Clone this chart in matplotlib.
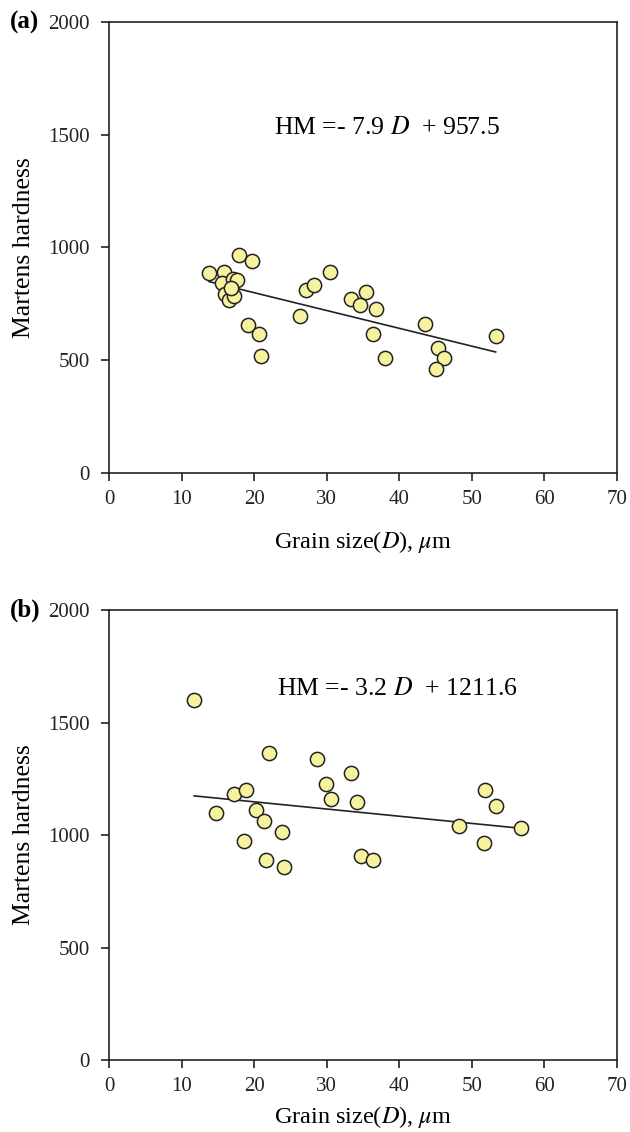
import numpy as np
import matplotlib
matplotlib.use('Agg')
import matplotlib.pyplot as plt

# panel (a) data
d_a = [13.8, 15.9, 17.95, 19.65, 15.6, 17.1, 17.7, 16.0, 16.5, 17.3, 16.8,
       19.1, 20.7, 20.9, 26.3, 27.1, 28.3, 30.4, 33.3, 34.6, 35.4, 36.8,
       36.4, 38.0, 43.5, 45.4, 46.2, 45.1, 53.3]
hm_a = [888, 891, 967, 940, 844, 862, 855, 792, 768, 785, 820,
        656, 616, 517, 696, 813, 835, 893, 770, 744, 801, 726,
        618, 511, 659, 556, 509, 460, 609]
fit_a = (-7.9, 957.5)

# panel (b) data
d_b = [11.75, 22.1, 28.7, 33.3, 29.9, 30.6, 34.2, 17.2, 18.9, 14.8, 20.3,
       21.3, 23.9, 18.6, 21.7, 24.1, 34.8, 36.4, 51.9, 53.4, 48.3, 51.7, 56.8]
hm_b = [1601, 1363, 1338, 1277, 1228, 1161, 1145, 1184, 1200, 1096, 1110,
        1062, 1015, 973, 890, 859, 908, 890, 1200, 1127, 1041, 963, 1032]
fit_b = (-3.2, 1211.6)

xticks = [0, 10, 20, 30, 40, 50, 60, 70]
yticks = [0, 500, 1000, 1500, 2000]

plt.rcParams.update({
    "font.family": "Liberation Serif",
    "mathtext.fontset": "stix",
    "font.size": 12,
})

fig = plt.figure(figsize=(6.3, 11.32), dpi=100)
ax_a = fig.add_axes([0.173, 0.5822, 0.806, 0.3984])
ax_b = fig.add_axes([0.173, 0.0636, 0.806, 0.3975])

panels = [
    (ax_a, d_a, hm_a, fit_a, "(a)", "HM =- 7.9 $\\it{D}$  + 957.5", (22.8, 1530), -0.125),
    (ax_b, d_b, hm_b, fit_b, "(b)", "HM =- 3.2 $\\it{D}$  + 1211.6", (23.2, 1649), -0.098),
]

for ax, d, hm, fit, tag, eq, eqpos, xly in panels:
    ax.scatter(d, hm, s=105, facecolor='#F7F29E', edgecolor='#222222',
               linewidth=1.1, zorder=3)
    xs = np.array([min(d), max(d)])
    ax.plot(xs, fit[0] * xs + fit[1], color='#222222', lw=1.2, zorder=2)
    ax.set_xlim(0, 70)
    ax.set_ylim(0, 2000)
    ax.set_xticks(xticks)
    ax.set_yticks(yticks)
    ax.tick_params(direction='out', length=6, width=1.2, labelsize=15,
                   colors='#222222')
    ax.tick_params(axis='y', pad=8)
    ax.tick_params(axis='x', pad=6)
    for sp in ax.spines.values():
        sp.set_linewidth(1.2)
        sp.set_color('#222222')
    ax.set_xlabel(r"Grain size($\it{D}$), $\mu$m", fontsize=17.5)
    ax.xaxis.set_label_coords(0.5, xly)
    ax.set_ylabel("Martens hardness", fontsize=18.5)
    ax.yaxis.set_label_coords(-0.145, 0.5)
    ax.text(eqpos[0], eqpos[1], eq, fontsize=18.5, va='center', ha='left')
    ax.text(-0.195, 1.0, tag, transform=ax.transAxes, fontsize=18,
            fontweight='bold', va='center', ha='left')

plt.savefig("out.png", dpi=100)
